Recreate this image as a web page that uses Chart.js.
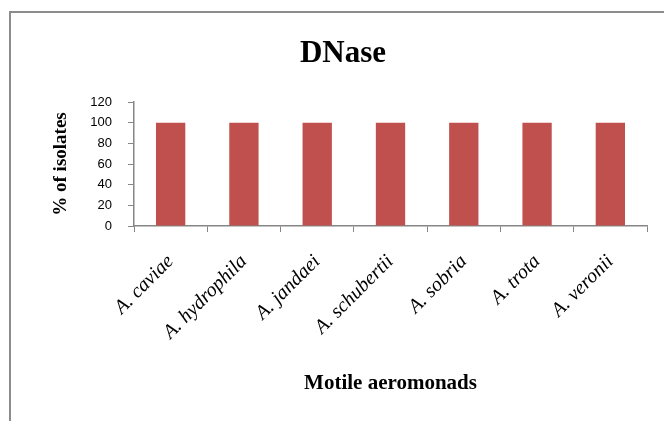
<!DOCTYPE html>
<html>
<head>
<meta charset="utf-8">
<script src="https://cdn.jsdelivr.net/npm/chart.js@4/dist/chart.umd.min.js"></script>
<style>
  html, body { margin: 0; padding: 0; background: #fff; overflow: hidden; }
  #wrap { position: relative; width: 664px; height: 421px; }
  #frame { position: absolute; left: 9px; top: 11px; width: 720px; height: 500px; border: 2px solid #8c8c8c; box-sizing: border-box; }
  canvas { position: absolute; left: 0; top: 0; }
</style>
</head>
<body>
<div id="wrap">
  <div id="frame"></div>
  <canvas id="c" width="664" height="421"></canvas>
</div>
<script>
const chartTitle = "DNase";
const categories = ["A. caviae", "A. hydrophila", "A. jandaei", "A. schubertii", "A. sobria", "A. trota", "A. veronii"];
const values = [100, 100, 100, 100, 100, 100, 100];
const xAxisTitle = "Motile aeromonads";
const yAxisTitle = "% of isolates";
const yTicks = [0, 20, 40, 60, 80, 100, 120];

const titlePlugin = {
  id: 'frameTitle',
  afterDraw(chart) {
    const ctx = chart.ctx;
    ctx.save();
    ctx.font = 'bold 31px "Liberation Serif", "Times New Roman", serif';
    ctx.fillStyle = '#000';
    ctx.textAlign = 'center';
    ctx.textBaseline = 'alphabetic';
    ctx.fillText(chartTitle, 343, 62);
    ctx.restore();
  }
};

new Chart(document.getElementById('c'), {
  type: 'bar',
  data: {
    labels: categories,
    datasets: [{
      data: values,
      backgroundColor: '#C0504D',
      borderWidth: 0,
      barPercentage: 0.4,
      categoryPercentage: 1.0
    }]
  },
  plugins: [titlePlugin],
  options: {
    responsive: false,
    animation: false,
    devicePixelRatio: 1,
    layout: { padding: { left: 0, right: 17, top: 102, bottom: 0 } },
    plugins: {
      legend: { display: false },
      tooltip: { enabled: false },
      title: { display: false }
    },
    scales: {
      x: {
        grid: { display: true, drawOnChartArea: false, drawTicks: true, tickLength: 6, color: '#868686', offset: true },
        border: { display: true, color: '#868686', width: 1.5 },
        ticks: {
          color: '#000',
          maxRotation: 45,
          minRotation: 45,
          padding: 18,
          font: { family: '"Liberation Serif", "Times New Roman", serif', style: 'italic', size: 20 }
        },
        title: {
          display: true,
          text: xAxisTitle,
          color: '#000',
          font: { family: '"Liberation Serif", "Times New Roman", serif', weight: 'bold', size: 21 },
          padding: { top: 0, bottom: 25 }
        },
        afterFit(scale) { scale.height = 195; }
      },
      y: {
        min: 0,
        max: 120,
        afterBuildTicks(scale) { scale.ticks = yTicks.map(v => ({ value: v })); },
        grid: { display: true, drawOnChartArea: false, drawTicks: true, tickLength: 6, color: '#868686' },
        border: { display: true, color: '#868686', width: 1.5 },
        ticks: {
          color: '#000',
          padding: 16,
          font: { family: '"Liberation Sans", Arial, sans-serif', size: 13 }
        },
        title: {
          display: true,
          text: yAxisTitle,
          color: '#000',
          font: { family: '"Liberation Serif", "Times New Roman", serif', weight: 'bold', size: 19 },
          padding: { top: 50, bottom: 0 }
        },
        afterFit(scale) { scale.width = 134; }
      }
    }
  }
});
</script>
</body>
</html>
